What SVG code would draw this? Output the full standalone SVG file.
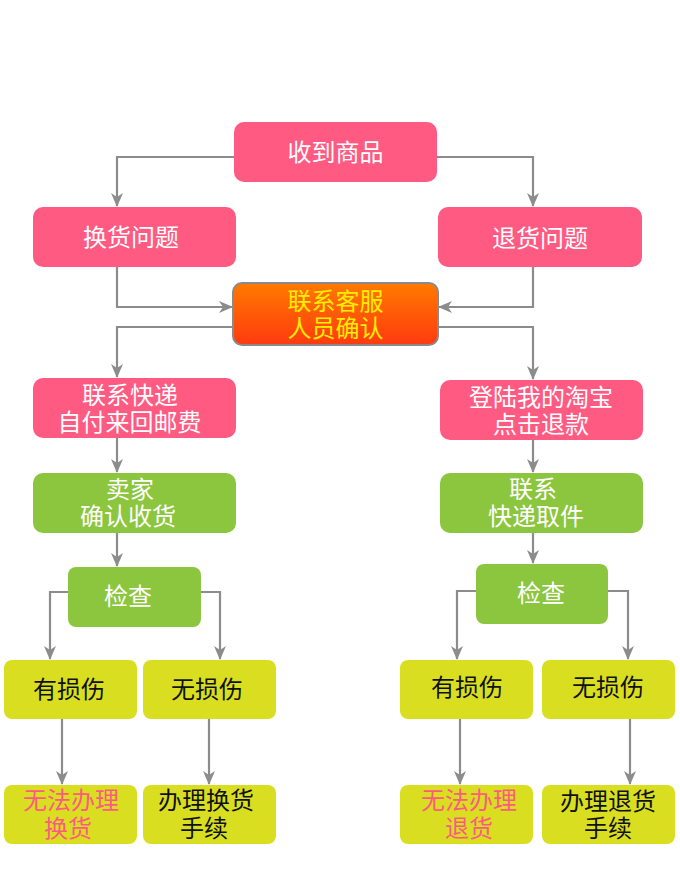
<svg xmlns="http://www.w3.org/2000/svg" width="680" height="888" viewBox="0 0 680 888">
<defs>
<marker id="ah" viewBox="0 0 14 12" refX="13" refY="6" markerWidth="14" markerHeight="12" orient="auto" markerUnits="userSpaceOnUse">
<path d="M0,0 L14,6 L0,12 L4,6 Z" fill="#8c8c8c"/>
</marker>
<linearGradient id="og" x1="0" y1="0" x2="0" y2="1">
<stop offset="0" stop-color="#ff7a00"/>
<stop offset="0.5" stop-color="#ff5a08"/>
<stop offset="1" stop-color="#ff3a10"/>
</linearGradient>
<style>
.pink{fill:#ff5a82}
.green{fill:#8cc63f}
.yel{fill:#d9df20}
text{font-family:"Noto Sans CJK SC","Noto Sans",sans-serif;font-size:24px;text-anchor:middle}
.w{fill:#ffffff}
.k{fill:#111111}
.p{fill:#ff5a82}
.y{fill:#ffee00}
.c{fill:none;stroke:#8c8c8c;stroke-width:2.2}
</style>
</defs>
<rect width="680" height="888" fill="#ffffff"/>
<g id="connectors">
<path class="c" d="M234,157 H117 V206" marker-end="url(#ah)"/>
<path class="c" d="M437,157 H533 V206" marker-end="url(#ah)"/>
<path class="c" d="M117,267 V307 H232" marker-end="url(#ah)"/>
<path class="c" d="M533,267 V307 H439" marker-end="url(#ah)"/>
<path class="c" d="M233,327 H117 V377" marker-end="url(#ah)"/>
<path class="c" d="M438,327 H533 V379" marker-end="url(#ah)"/>
<path class="c" d="M117,438 V472" marker-end="url(#ah)"/>
<path class="c" d="M533,440 V472" marker-end="url(#ah)"/>
<path class="c" d="M117,533 V566" marker-end="url(#ah)"/>
<path class="c" d="M533,533 V563" marker-end="url(#ah)"/>
<path class="c" d="M68,592 H50 V659" marker-end="url(#ah)"/>
<path class="c" d="M201,592 H220 V659" marker-end="url(#ah)"/>
<path class="c" d="M476,591 H457 V659" marker-end="url(#ah)"/>
<path class="c" d="M608,591 H628 V659" marker-end="url(#ah)"/>
<path class="c" d="M62,719 V784" marker-end="url(#ah)"/>
<path class="c" d="M209,719 V784" marker-end="url(#ah)"/>
<path class="c" d="M460,719 V784" marker-end="url(#ah)"/>
<path class="c" d="M630,719 V784" marker-end="url(#ah)"/>
</g>
<g id="n1"><rect class="pink" x="234" y="122" width="203" height="60" rx="10"/><text class="w" x="335.5" y="161">收到商品</text></g>
<g id="n2"><rect class="pink" x="33" y="207" width="203" height="60" rx="10"/><text class="w" x="131" y="246">换货问题</text></g>
<g id="n3"><rect class="pink" x="438" y="207" width="204" height="60" rx="10"/><text class="w" x="540" y="247">退货问题</text></g>
<g id="n4"><rect x="233" y="283" width="205" height="62" rx="9" fill="url(#og)" stroke="#8a8a8a" stroke-width="2"/><text class="y"><tspan x="335.5" y="310">联系客服</tspan><tspan x="335.5" y="337">人员确认</tspan></text></g>
<g id="n5"><rect class="pink" x="33" y="378" width="203" height="60" rx="10"/><text class="w"><tspan x="130" y="404">联系快递</tspan><tspan x="129.5" y="431">自付来回邮费</tspan></text></g>
<g id="n6"><rect class="pink" x="440" y="380" width="203" height="60" rx="10"/><text class="w"><tspan x="541" y="406">登陆我的淘宝</tspan><tspan x="541" y="433">点击退款</tspan></text></g>
<g id="n7"><rect class="green" x="33" y="473" width="203" height="60" rx="10"/><text class="w"><tspan x="130" y="498">卖家</tspan><tspan x="128" y="525">确认收货</tspan></text></g>
<g id="n8"><rect class="green" x="440" y="473" width="203" height="60" rx="10"/><text class="w"><tspan x="533" y="498">联系</tspan><tspan x="536" y="525">快递取件</tspan></text></g>
<g id="n9"><rect class="green" x="68" y="567" width="133" height="60" rx="8"/><text class="w" x="128" y="605">检查</text></g>
<g id="n10"><rect class="green" x="476" y="564" width="132" height="60" rx="8"/><text class="w" x="541" y="602">检查</text></g>
<g id="n11"><rect class="yel" x="4" y="660" width="133" height="59" rx="8"/><text class="k" x="69" y="698">有损伤</text></g>
<g id="n12"><rect class="yel" x="143" y="660" width="133" height="59" rx="8"/><text class="k" x="207" y="698">无损伤</text></g>
<g id="n13"><rect class="yel" x="400" y="660" width="133" height="59" rx="8"/><text class="k" x="467" y="696">有损伤</text></g>
<g id="n14"><rect class="yel" x="542" y="660" width="133" height="59" rx="8"/><text class="k" x="608" y="696">无损伤</text></g>
<g id="n15"><rect class="yel" x="4" y="785" width="133" height="59" rx="8"/><text class="p"><tspan x="71" y="809">无法办理</tspan><tspan x="68" y="837">换货</tspan></text></g>
<g id="n16"><rect class="yel" x="143" y="785" width="133" height="59" rx="8"/><text class="k"><tspan x="206" y="809">办理换货</tspan><tspan x="204" y="837">手续</tspan></text></g>
<g id="n17"><rect class="yel" x="400" y="785" width="133" height="59" rx="8"/><text class="p"><tspan x="469" y="809">无法办理</tspan><tspan x="469" y="837">退货</tspan></text></g>
<g id="n18"><rect class="yel" x="542" y="785" width="133" height="59" rx="8"/><text class="k"><tspan x="608" y="810">办理退货</tspan><tspan x="608" y="837">手续</tspan></text></g>
</svg>
